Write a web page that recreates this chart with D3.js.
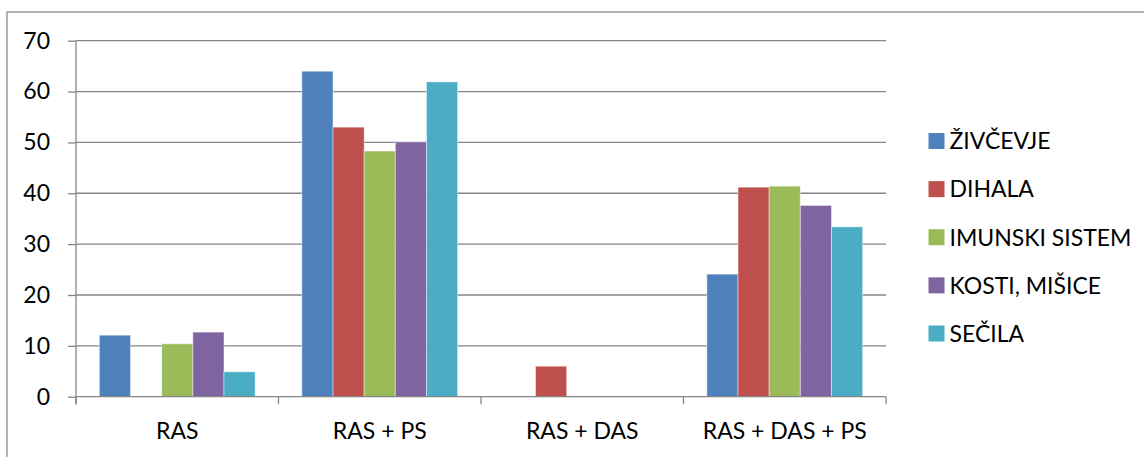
<!DOCTYPE html>
<html>
<head>
<meta charset="utf-8">
<script src="https://cdn.jsdelivr.net/npm/d3@7"></script>
<style>
  html, body { margin: 0; padding: 0; background: #fff; }
  svg { display: block; }
  text { font-family: Lato, "Open Sans", sans-serif; fill: #000; }
</style>
</head>
<body>
<svg id="chart" width="1144" height="457"></svg>
<script>
const categories = ["RAS", "RAS + PS", "RAS + DAS", "RAS + DAS + PS"];
const seriesNames = ["ŽIVČEVJE", "DIHALA", "IMUNSKI SISTEM", "KOSTI, MIŠICE", "SEČILA"];
const seriesColors = ["#4F81BD", "#C0504D", "#9BBB59", "#8064A2", "#4BACC6"];
const zivcevje = [12.1, 64.0, 0, 24.1];
const dihala = [0, 53.0, 6.0, 41.2];
const imunskiSistem = [10.4, 48.3, 0, 41.4];
const kostiMisice = [12.7, 50.1, 0, 37.6];
const secila = [4.9, 61.9, 0, 33.4];
const yTicks = [0, 10, 20, 30, 40, 50, 60, 70];

const seriesValues = [zivcevje, dihala, imunskiSistem, kostiMisice, secila];

const svg = d3.select("#chart");
const plotLeft = 76, plotRight = 886, plotTop = 40.7, plotBottom = 396.7;
const fontSize = 23;

// outer border
svg.append("rect").attr("x", 7).attr("y", 12).attr("width", 1200).attr("height", 500)
  .attr("fill", "none").attr("stroke", "#8c8c8c").attr("stroke-width", 1.3);

const y = d3.scaleLinear().domain([0, 70]).range([plotBottom, plotTop]);
const x0 = d3.scaleBand().domain(categories).range([plotLeft, plotRight]).paddingInner(0).paddingOuter(0);
const x1 = d3.scaleBand().domain(seriesNames).range([0, x0.bandwidth()]).paddingInner(0).paddingOuter(0.75);

// gridlines
svg.append("g").selectAll("line").data(yTicks.filter(d => d > 0)).join("line")
  .attr("x1", plotLeft).attr("x2", plotRight)
  .attr("y1", d => y(d)).attr("y2", d => y(d))
  .attr("stroke", "#868686").attr("stroke-width", 1.3);

// bars
const groups = svg.append("g").selectAll("g").data(categories).join("g")
  .attr("transform", c => `translate(${x0(c)},0)`);
groups.selectAll("rect")
  .data((c, ci) => seriesNames.map((s, si) => ({ s, si, v: seriesValues[si][ci] })).filter(d => d.v > 0))
  .join("rect")
  .attr("x", d => x1(d.s))
  .attr("width", x1.bandwidth())
  .attr("y", d => y(d.v))
  .attr("height", d => y(0) - y(d.v))
  .attr("fill", d => seriesColors[d.si])
  .attr("stroke", "rgba(255,255,255,0.45)")
  .attr("stroke-width", 1);

// y axis
const yAxis = d3.axisLeft(y).tickValues(yTicks).tickSize(8).tickPadding(18).tickFormat(d3.format("d"));
const gy = svg.append("g").attr("transform", `translate(${plotLeft},0)`).call(yAxis);
gy.select(".domain").attr("d", `M0,${plotTop}V${plotBottom + 7.5}`).attr("stroke", "#868686").attr("stroke-width", 1.3);
gy.selectAll(".tick line").attr("stroke", "#868686").attr("stroke-width", 1.3);
gy.selectAll(".tick text").attr("font-size", fontSize).attr("font-family", "Lato").attr("fill", "#000");

// x axis
const xAxis = d3.axisBottom(x0).tickSize(0).tickPadding(26);
const gx = svg.append("g").attr("transform", `translate(0,${plotBottom})`).call(xAxis);
gx.select(".domain").attr("d", `M${plotLeft},0H${plotRight}`).attr("stroke", "#868686").attr("stroke-width", 1.3);
gx.selectAll(".tick text").attr("font-size", fontSize).attr("font-family", "Lato").attr("fill", "#000");
// category separator ticks
const boundaries = categories.map(c => x0(c)).concat([plotRight]);
gx.append("g").selectAll("line").data(boundaries).join("line")
  .attr("x1", d => d).attr("x2", d => d).attr("y1", 0).attr("y2", 7.5)
  .attr("stroke", "#868686").attr("stroke-width", 1.3);

// legend
const legendY = d3.scalePoint().domain(seriesNames).range([141, 333.5]);
const lg = svg.append("g").selectAll("g").data(seriesNames).join("g")
  .attr("transform", d => `translate(928.5,${legendY(d)})`);
lg.append("rect").attr("x", 0).attr("y", -8).attr("width", 16).attr("height", 16)
  .attr("fill", (d, i) => seriesColors[i]);
lg.append("text").attr("x", 21).attr("y", 0).attr("dy", "0.36em")
  .attr("font-size", fontSize).text(d => d);
</script>
</body>
</html>
